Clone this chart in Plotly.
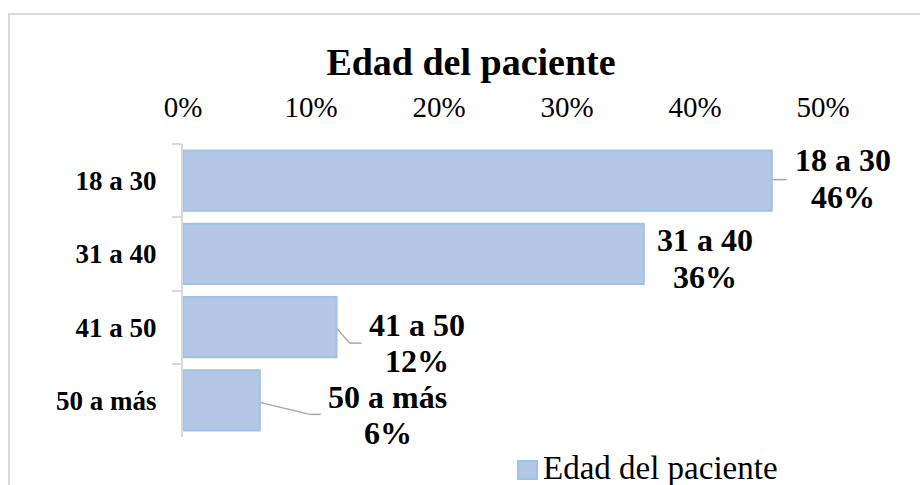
import plotly.graph_objects as go

categories = ["18 a 30", "31 a 40", "41 a 50", "50 a más"]
values = [0.46, 0.36, 0.12, 0.06]
x_ticks = [0, 0.1, 0.2, 0.3, 0.4, 0.5]
x_tick_labels = ["0%", "10%", "20%", "30%", "40%", "50%"]
series_name = "Edad del paciente"

FONT = "Liberation Serif, Times New Roman, serif"
GRID = "#d9d9d9"
LEADER = "#a6a6a6"
BAR_FILL = "#b4c7e7"
BAR_EDGE = "#9dc3e6"

# plot area in pixels (x: 183..823, y: 144..437)
L, R, T, B = 183, 823, 144, 437
PX_PER_X = (R - L) / 0.5
PX_PER_CAT = (B - T) / len(categories)


def px_x(px):
    return (px - L) / (R - L)


def px_y(px):
    return (B - px) / (B - T)


fig = go.Figure()
fig.add_trace(
    go.Bar(
        y=categories,
        x=values,
        orientation="h",
        name=series_name,
        width=0.82,
        marker=dict(color=BAR_FILL, line=dict(color=BAR_EDGE, width=2)),
        hoverinfo="skip",
        showlegend=False,
    )
)

# data labels: x offset of the label centre from bar end, name line / value line shifts (px)
label_offsets = [(71, 21, -16), (61, 13.5, -23.5), (80, 2, -34), (128, 3, -33)]
annotations = []
for i, (cat, val) in enumerate(zip(categories, values)):
    ox, s1, s2 = label_offsets[i]
    for txt, shift in ((cat, s1), (f"{val:.0%}", s2)):
        annotations.append(
            dict(
                x=val / 0.5 + ox / (R - L),
                y=cat,
                xref="paper",
                yref="y",
                yshift=shift,
                text=f"<b>{txt}</b>",
                showarrow=False,
                xanchor="center",
                yanchor="middle",
                font=dict(family=FONT, size=32, color="black"),
            )
        )

# legend drawn by hand so the swatch matches the reference size
annotations.append(
    dict(
        x=px_x(541),
        y=px_y(468),
        xref="paper",
        yref="paper",
        xanchor="left",
        yanchor="middle",
        text=series_name,
        showarrow=False,
        font=dict(family=FONT, size=33, color="black"),
    )
)

# leader lines as pixel offsets from the bar end
leader_paths = {
    0: [(0, -1), (15, -1)],
    2: [(0, 1), (13, 16), (25, 16)],
    3: [(0, 2), (50, 14), (61, 14)],
}
shapes = []
for i, pts in leader_paths.items():
    for (x0, y0), (x1, y1) in zip(pts[:-1], pts[1:]):
        shapes.append(
            dict(
                type="line",
                xref="x",
                yref="y",
                x0=values[i] + x0 / PX_PER_X,
                x1=values[i] + x1 / PX_PER_X,
                y0=i + y0 / PX_PER_CAT,
                y1=i + y1 / PX_PER_CAT,
                line=dict(color=LEADER, width=1.5),
                layer="below",
            )
        )

# legend swatch
shapes.append(
    dict(
        type="rect",
        xref="paper",
        yref="paper",
        x0=px_x(518),
        x1=px_x(537),
        y0=px_y(479),
        y1=px_y(461),
        fillcolor=BAR_FILL,
        line=dict(color=BAR_EDGE, width=2),
    )
)

# outer chart border
shapes.append(
    dict(
        type="rect",
        xref="paper",
        yref="paper",
        x0=px_x(9),
        x1=px_x(935),
        y0=px_y(500),
        y1=px_y(14),
        line=dict(color=GRID, width=2),
        fillcolor="rgba(0,0,0,0)",
    )
)

fig.update_layout(
    width=920,
    height=485,
    margin=dict(l=L, r=920 - R, t=T, b=485 - B),
    paper_bgcolor="white",
    plot_bgcolor="white",
    title=dict(
        text="<b>Edad del paciente</b>",
        x=471 / 920,
        xanchor="center",
        xref="container",
        y=1 - 62 / 485,
        yanchor="middle",
        yref="container",
        font=dict(family=FONT, size=38, color="black"),
    ),
    xaxis=dict(
        side="top",
        range=[0, 0.5],
        tickvals=x_ticks,
        ticktext=x_tick_labels,
        showgrid=False,
        zeroline=False,
        showline=False,
        ticks="",
        ticklabelstandoff=20,
        tickfont=dict(family=FONT, size=29, color="black"),
    ),
    yaxis=dict(
        type="category",
        categoryorder="array",
        categoryarray=categories,
        autorange="reversed",
        showgrid=False,
        zeroline=False,
        showline=True,
        linecolor=GRID,
        linewidth=2,
        ticks="outside",
        ticklen=9,
        tickwidth=1.5,
        tickcolor=GRID,
        tickson="boundaries",
        ticklabelstandoff=19,
        tickfont=dict(family=FONT, size=27, color="black", weight="bold"),
    ),
    showlegend=False,
    annotations=annotations,
    shapes=shapes,
)

fig.write_html(
    "out.html",
    config={"displayModeBar": False},
    post_script="document.body.style.margin='0';",
)
